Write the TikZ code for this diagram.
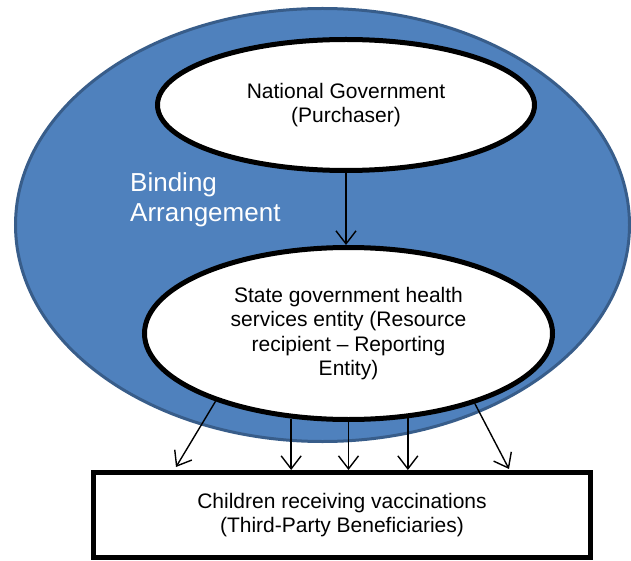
\documentclass[tikz,border=0pt]{standalone}
\usepackage{fontspec}
\setmainfont{Liberation Sans}
\usetikzlibrary{shapes.geometric,arrows.meta}
\definecolor{fillblue}{RGB}{79,129,189}
\definecolor{edgeblue}{RGB}{56,93,138}
\begin{document}
\begin{tikzpicture}[x=1pt,y=-1pt,
  body/.style={font=\fontsize{21}{24.5}\selectfont, align=center},
  oval/.style={ellipse, draw=black, line width=5pt, fill=white, inner sep=0pt, body},
  arr/.style={line width=1.4pt, -{Straight Barb[length=13pt,width=20pt]}}]
\useasboundingbox (0,0) rectangle (631,561);
\node[ellipse, draw=edgeblue, fill=fillblue, line width=3pt, minimum width=614pt, minimum height=433pt, inner sep=0pt] (outer) at (322.5,225) {};
\node[anchor=west, text=white, align=left, inner sep=0pt, font=\fontsize{26}{30}\selectfont] (bind) at (130,200) {Binding\\Arrangement};
\node[oval, minimum width=377pt, minimum height=131pt] (nat) at (346,105) {National Government\\(Purchaser)};
\node[oval, minimum width=408pt, minimum height=172pt] (state) at (348.5,333.5) {State government health\\services entity (Resource\\recipient -- Reporting\\Entity)};
\node[draw=black, line width=5pt, fill=white, minimum width=497pt, minimum height=85pt, inner sep=0pt, body] (kids) at (342,515) {Children receiving vaccinations\\(Third-Party Beneficiaries)};
\draw[arr] (nat.south) -- (nat.south |- state.north);
\draw[arr] (state.-153.8) -- ([xshift=-166pt,yshift=3pt]kids.north);
\draw[arr] (state.-124.1) -- (state.-124.1 |- kids.north);
\draw[arr] (state.-90) -- (state.-90 |- kids.north);
\draw[arr] (state.-55.9) -- (state.-55.9 |- kids.north);
\draw[arr] (state.-29.3) -- ([xshift=167pt,yshift=1pt]kids.north);
\end{tikzpicture}
\end{document}
